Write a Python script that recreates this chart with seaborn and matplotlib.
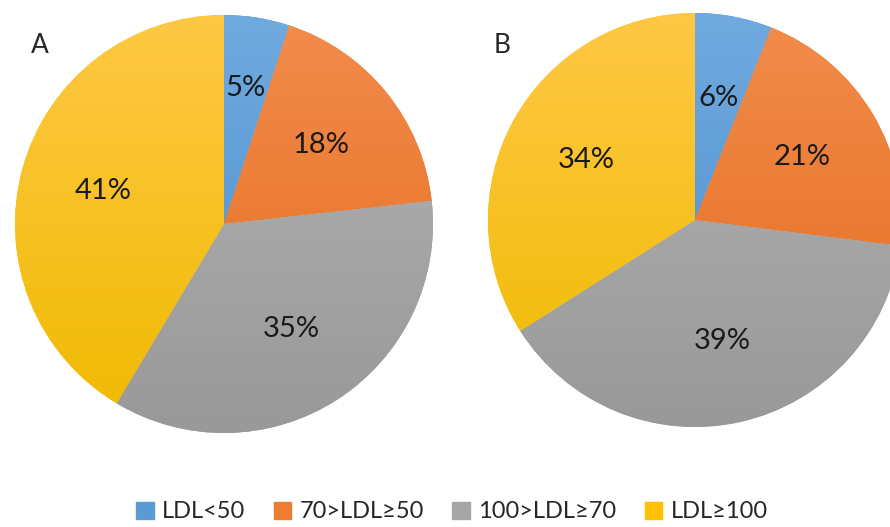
import numpy as np
import matplotlib
matplotlib.use("Agg")
import matplotlib.pyplot as plt
from matplotlib.colors import LinearSegmentedColormap
import seaborn as sns

# Data
categories = ["LDL<50", "70>LDL≥50", "100>LDL≥70", "LDL≥100"]
values_a = [5, 18, 35, 41]
values_b = [6, 21, 39, 34]
panel_names = ["A", "B"]

# Excel-like slice colours, light (top) -> dark (bottom)
base_colors = ["#5B9BD5", "#ED7D31", "#A5A5A5", "#FFC000"]
top_colors = ["#70AADF", "#F28C4C", "#B3B3B3", "#FFC845"]
bottom_colors = ["#4A8BCB", "#E46B1C", "#999999", "#EFBA00"]

sns.set_theme(style="white")
plt.rcParams["font.family"] = ["Lato", "DejaVu Sans"]

fig = plt.figure(figsize=(8.9, 5.27), dpi=100)
W, H = 890, 527


def add_pie(cx, cy, r, values, blue_dist=None):
    # axes box in pixel coords -> figure fractions
    ax = fig.add_axes([(cx - r) / W, (H - cy - r) / H, 2 * r / W, 2 * r / H])
    wedges, texts, autotexts = ax.pie(
        values, colors=base_colors, startangle=90, counterclock=False,
        autopct=lambda p: f"{p:.0f}%", pctdistance=0.6, radius=1,
        wedgeprops=dict(linewidth=0),
        textprops=dict(fontsize=21, color="#1a1a1a"))
    grad = np.linspace(0, 1, 256).reshape(-1, 1)
    for w, c0, c1 in zip(wedges, top_colors, bottom_colors):
        cmap = LinearSegmentedColormap.from_list("g", [c0, c1])
        im = ax.imshow(grad, cmap=cmap, extent=(-1, 1, -1, 1), origin="upper",
                       aspect="auto", zorder=1)
        im.set_clip_path(w)
    for t in autotexts:
        t.set_zorder(3)
    if blue_dist is not None:
        ang = np.deg2rad(90 - 360 * values[0] / sum(values) / 2)
        autotexts[0].set_position((blue_dist * np.cos(ang), blue_dist * np.sin(ang)))
    ax.set_xlim(-1, 1)
    ax.set_ylim(-1, 1)
    ax.set_aspect("equal")
    ax.axis("off")
    return autotexts


add_pie(224, 224, 209, values_a, blue_dist=0.66)
add_pie(695, 220, 207, values_b)

fig.text(40 / W, 1 - 45 / H, panel_names[0], fontsize=19, ha="center", va="center")
fig.text(502 / W, 1 - 45 / H, panel_names[1], fontsize=19, ha="center", va="center")

handles = [plt.Rectangle((0, 0), 1, 1, color=c) for c in base_colors]
fig.legend(handles, categories, loc="center", bbox_to_anchor=(452 / W, 1 - 512 / H),
           ncol=4, frameon=False, fontsize=17, handlelength=0.75, handleheight=0.75,
           handletextpad=0.35, columnspacing=1.2)

fig.savefig("out.png", dpi=100)
